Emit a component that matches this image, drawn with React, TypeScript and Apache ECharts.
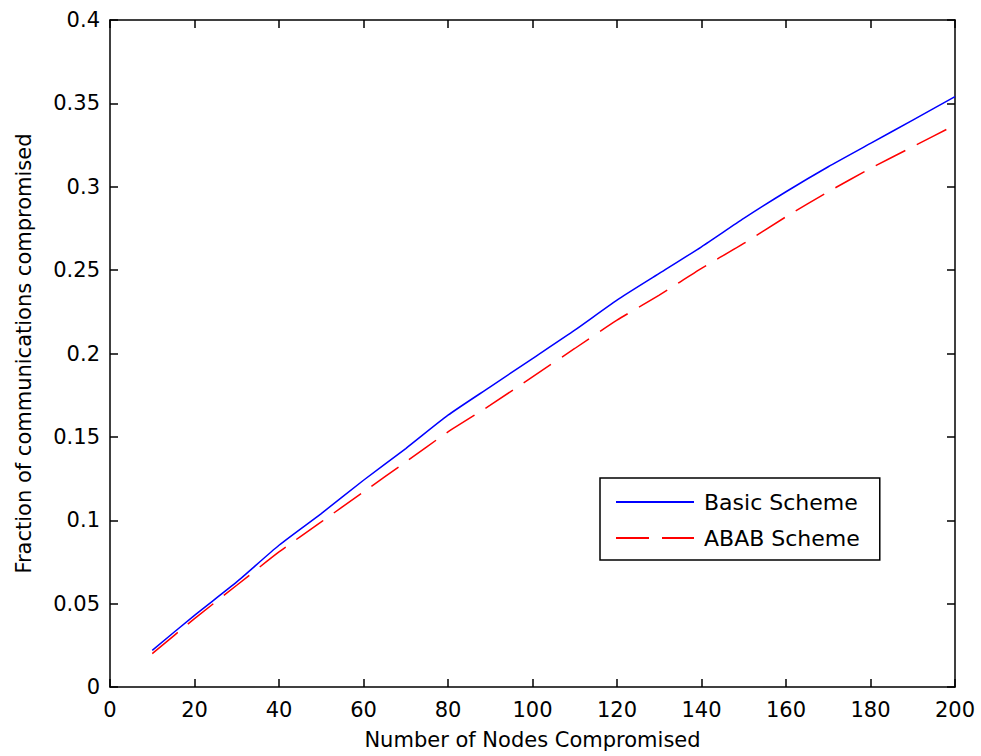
import React, { useEffect, useRef } from "react";
import * as echarts from "echarts";

const nodes = [10, 20, 30, 40, 50, 60, 70, 80, 90, 100, 110, 120, 130, 140, 150, 160, 170, 180, 190, 200];
const basicScheme = [0.022, 0.043, 0.063, 0.085, 0.104, 0.124, 0.143, 0.163, 0.180, 0.197, 0.214, 0.232, 0.248, 0.264, 0.281, 0.297, 0.312, 0.326, 0.340, 0.354];
const ababScheme = [0.020, 0.041, 0.061, 0.081, 0.099, 0.117, 0.135, 0.153, 0.169, 0.186, 0.203, 0.220, 0.235, 0.251, 0.266, 0.282, 0.297, 0.311, 0.324, 0.337];
const seriesNames = ["Basic Scheme", "ABAB Scheme"];
const xTitle = "Number of Nodes Compromised";
const yTitle = "Fraction of communications compromised";

const FONT = "DejaVu Sans";

export default function App() {
  const ref = useRef<HTMLDivElement>(null);
  useEffect(() => {
    if (!ref.current) return;
    const chart = echarts.init(ref.current, undefined, { renderer: "svg" });
    const axisLine = { show: true, onZero: false, lineStyle: { color: "#000", width: 1.5 } };
    const axisTick = { show: true, inside: true, length: 8, lineStyle: { color: "#000", width: 1.5 } };
    chart.setOption({
      animation: false,
      backgroundColor: "#fff",
      grid: { left: 110, right: 26, top: 20, bottom: 69, containLabel: false },
      legend: {
        orient: "vertical",
        left: 600,
        top: 478,
        data: seriesNames,
        itemWidth: 78,
        itemHeight: 22,
        itemGap: 14,
        padding: [13, 20, 11, 15],
        borderColor: "#000",
        borderWidth: 1.5,
        backgroundColor: "#fff",
        itemStyle: { opacity: 0 },
        textStyle: { fontFamily: FONT, fontSize: 22, color: "#000", lineHeight: 22, padding: [0, 0, 0, 5] },
      },
      xAxis: [
        {
          type: "value",
          min: 0,
          max: 200,
          interval: 20,
          position: "bottom",
          name: xTitle,
          nameLocation: "middle",
          nameGap: 42,
          nameTextStyle: { fontFamily: FONT, fontSize: 21, color: "#000" },
          axisLine,
          axisTick,
          axisLabel: { fontFamily: FONT, fontSize: 21, color: "#000", margin: 12 },
          splitLine: { show: false },
        },
        {
          type: "value",
          min: 0,
          max: 200,
          interval: 20,
          position: "top",
          axisLine,
          axisTick,
          axisLabel: { show: false },
          splitLine: { show: false },
        },
      ],
      yAxis: [
        {
          type: "value",
          min: 0,
          max: 0.4,
          interval: 0.05,
          position: "left",
          name: yTitle,
          nameLocation: "middle",
          nameGap: 76,
          nameTextStyle: { fontFamily: FONT, fontSize: 21, color: "#000" },
          axisLine,
          axisTick,
          axisLabel: { fontFamily: FONT, fontSize: 21, color: "#000", margin: 10 },
          splitLine: { show: false },
        },
        {
          type: "value",
          min: 0,
          max: 0.4,
          interval: 0.05,
          position: "right",
          axisLine,
          axisTick,
          axisLabel: { show: false },
          splitLine: { show: false },
        },
      ],
      series: [
        {
          name: seriesNames[0],
          type: "line",
          data: nodes.map((x, i) => [x, basicScheme[i]]),
          showSymbol: false,
          symbol: "none",
          smooth: 0.2,
          lineStyle: { color: "#0000ff", width: 1.5 },
          itemStyle: { color: "#0000ff" },
        },
        {
          name: seriesNames[1],
          type: "line",
          data: nodes.map((x, i) => [x, ababScheme[i]]),
          showSymbol: false,
          symbol: "none",
          smooth: 0.2,
          lineStyle: { color: "#ff0000", width: 1.5, type: [33, 13] },
          itemStyle: { color: "#ff0000" },
        },
      ],
    });
    return () => chart.dispose();
  }, []);
  return <div ref={ref} style={{ width: 981, height: 756, position: "absolute", left: 0, top: 0 }} />;
}
